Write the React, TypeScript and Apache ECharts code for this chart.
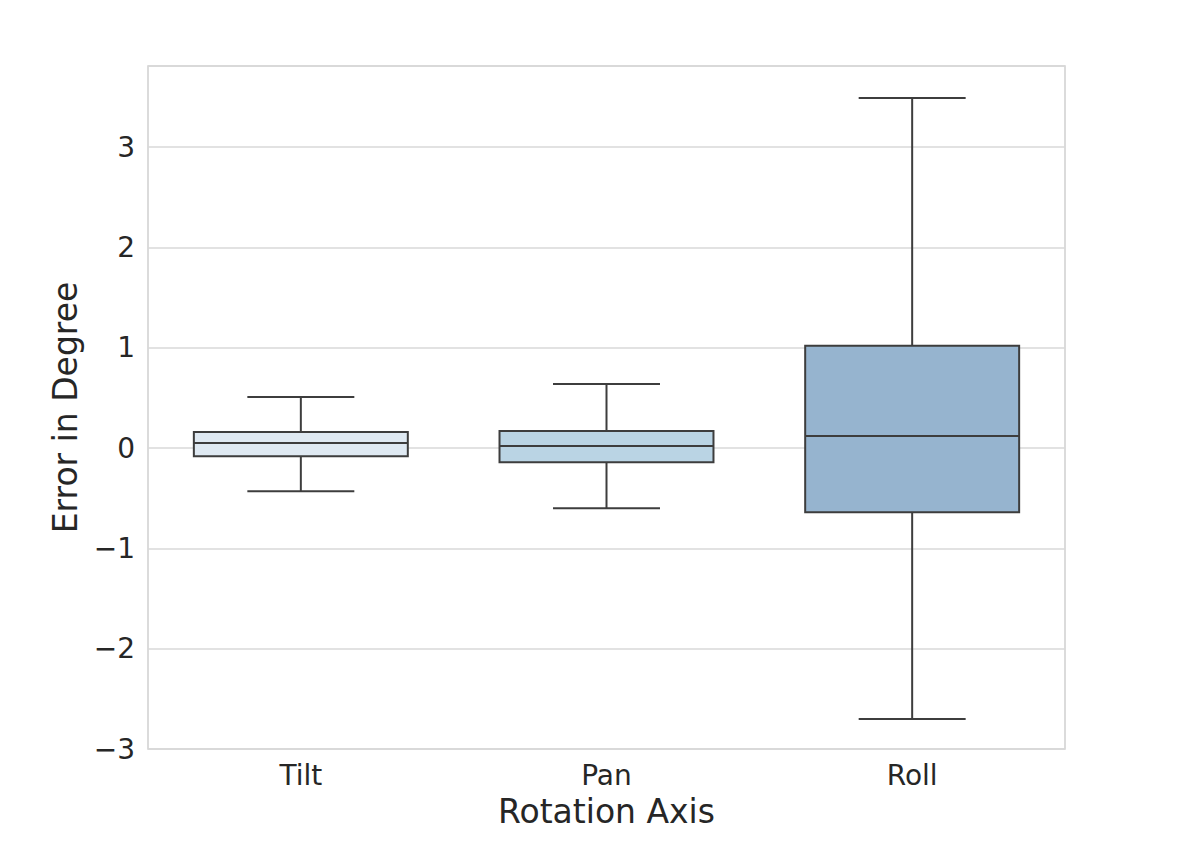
import React, { useEffect, useRef } from "react";
import * as echarts from "echarts";

const categories = ["Tilt", "Pan", "Roll"];
const whiskerLow = [-0.43, -0.6, -2.7];
const q1Values = [-0.08, -0.14, -0.64];
const medians = [0.05, 0.02, 0.12];
const q3Values = [0.16, 0.17, 1.02];
const whiskerHigh = [0.51, 0.64, 3.49];
const boxColors = ["#dfe9f2", "#bad4e4", "#96b4cf"];
const yTicks = [-3, -2, -1, 0, 1, 2, 3];

const FONT = "DejaVu Sans";

export default function App() {
  const ref = useRef<HTMLDivElement>(null);
  useEffect(() => {
    document.body.style.margin = "0";
    const chart = echarts.init(ref.current!, null, { renderer: "svg" });
    const data = categories.map((c, i) => [
      i,
      whiskerLow[i],
      q1Values[i],
      medians[i],
      q3Values[i],
      whiskerHigh[i],
    ]);
    const lineStyle = { stroke: "#3d3d3d", lineWidth: 2, fill: "none" };
    chart.setOption({
      animation: false,
      backgroundColor: "#ffffff",
      grid: {
        left: 148,
        right: 119,
        top: 66,
        bottom: 96,
        show: true,
        borderColor: "#cfcfcf",
        borderWidth: 1.5,
        backgroundColor: "transparent",
      },
      xAxis: {
        type: "category",
        data: categories,
        name: "Rotation Axis",
        nameLocation: "middle",
        nameGap: 46,
        nameTextStyle: { fontFamily: FONT, fontSize: 33, color: "#262626" },
        axisLine: { show: false },
        axisTick: { show: false },
        splitLine: { show: false },
        axisLabel: { fontFamily: FONT, fontSize: 28, color: "#262626", margin: 12 },
      },
      yAxis: {
        type: "value",
        min: -3,
        max: 3.81,
        interval: 1,
        name: "Error in Degree",
        nameLocation: "middle",
        nameGap: 66,
        nameTextStyle: { fontFamily: FONT, fontSize: 33, color: "#262626" },
        axisLine: { show: false },
        axisTick: { show: false },
        splitLine: { show: true, lineStyle: { color: "#d9d9d9", width: 1.5 } },
        axisLabel: {
          fontFamily: FONT,
          fontSize: 28,
          color: "#262626",
          margin: 13,
          showMaxLabel: false,
          formatter: (v: number) => {
            if (!yTicks.includes(Math.round(v * 1000) / 1000)) return "";
            return v < 0 ? "\u2212" + Math.abs(v) : String(v);
          },
        },
      },
      series: [
        {
          type: "custom",
          data,
          encode: { x: 0, y: [1, 2, 3, 4, 5] },
          renderItem: (params: any, api: any) => {
            const idx = api.value(0);
            const low = api.coord([idx, api.value(1)]);
            const q1 = api.coord([idx, api.value(2)]);
            const med = api.coord([idx, api.value(3)]);
            const q3 = api.coord([idx, api.value(4)]);
            const high = api.coord([idx, api.value(5)]);
            const band = api.size([1, 0])[0];
            const bw = band * 0.7;
            const cw = bw / 2;
            const cx = low[0];
            return {
              type: "group",
              children: [
                { type: "line", shape: { x1: cx, y1: high[1], x2: cx, y2: q3[1] }, style: lineStyle },
                { type: "line", shape: { x1: cx, y1: q1[1], x2: cx, y2: low[1] }, style: lineStyle },
                { type: "line", shape: { x1: cx - cw / 2, y1: high[1], x2: cx + cw / 2, y2: high[1] }, style: lineStyle },
                { type: "line", shape: { x1: cx - cw / 2, y1: low[1], x2: cx + cw / 2, y2: low[1] }, style: lineStyle },
                {
                  type: "rect",
                  shape: { x: cx - bw / 2, y: q3[1], width: bw, height: q1[1] - q3[1] },
                  style: { fill: boxColors[idx], stroke: "#3d3d3d", lineWidth: 2 },
                },
                { type: "line", shape: { x1: cx - bw / 2, y1: med[1], x2: cx + bw / 2, y2: med[1] }, style: lineStyle },
              ],
            };
          },
        },
      ],
    });
    return () => chart.dispose();
  }, []);
  return <div ref={ref} style={{ width: 1184, height: 845 }} />;
}
